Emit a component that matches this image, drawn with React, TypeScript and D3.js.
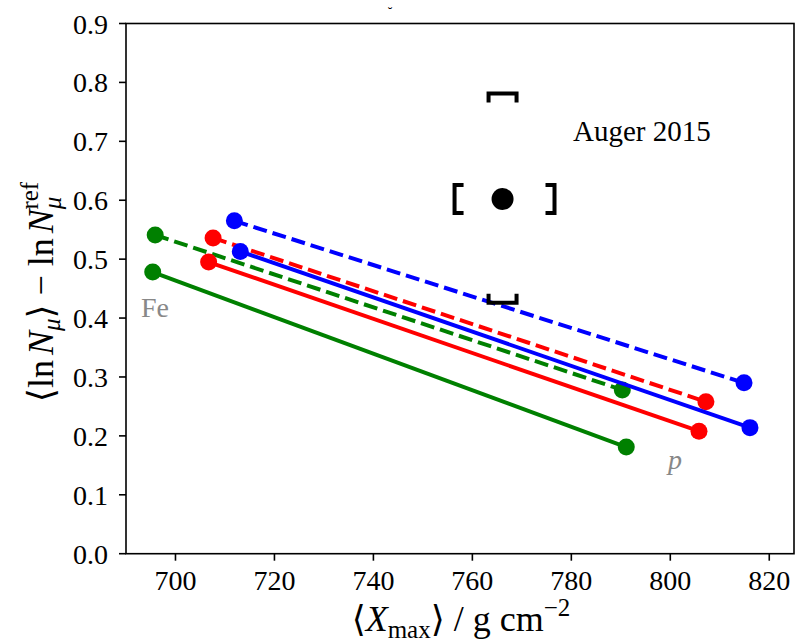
import React from "react";
import * as d3 from "d3";

const xTicks = [700, 720, 740, 760, 780, 800, 820];
const yTicks = [0.0, 0.1, 0.2, 0.3, 0.4, 0.5, 0.6, 0.7, 0.8, 0.9];

const seriesNames = ["green-solid", "green-dashed", "red-solid", "red-dashed", "blue-solid", "blue-dashed"];
const seriesColors = ["#008000", "#008000", "#ff0000", "#ff0000", "#0000ff", "#0000ff"];
const seriesDashed = [false, true, false, true, false, true];
const feX = [695.4, 695.9, 706.7, 707.6, 713.1, 711.9];
const feY = [0.478, 0.541, 0.495, 0.536, 0.513, 0.565];
const pX = [791.1, 790.3, 805.8, 807.2, 816.1, 814.9];
const pY = [0.181, 0.278, 0.208, 0.258, 0.214, 0.290];

const augerX = 766.1;
const augerY = 0.602;
const augerXLo = 756.4;
const augerXHi = 776.6;
const augerYLo = 0.426;
const augerYHi = 0.781;

const W = 797, H = 642;
const M = { left: 126, right: 794, top: 23.5, bottom: 553.7 };

export default function App() {
  const x = d3.scaleLinear().domain([690, 825]).range([M.left, M.right]);
  const y = d3.scaleLinear().domain([0, 0.9]).range([M.bottom, M.top]);
  const font = "'Liberation Serif', 'DejaVu Serif', serif";
  const line = d3.line<[number, number]>().x(d => x(d[0])).y(d => y(d[1]));

  const cx = x(augerX), cy = y(augerY);
  const bx0 = x(augerXLo), bx1 = x(augerXHi), by0 = y(augerYLo), by1 = y(augerYHi);
  const arm = 9, half = 14, halfH = 14;

  return (
    <svg width={W} height={H} style={{ position: "absolute", left: 0, top: 0, background: "#fff" }} fontFamily={font}>
      <text x={390} y={17} fontSize={14} textAnchor="middle" fill="#000">˘</text>
      {/* series */}
      {seriesNames.map((n, i) => (
        <g key={n}>
          <path d={line([[feX[i], feY[i]], [pX[i], pY[i]]]) || ""} stroke={seriesColors[i]} strokeWidth={4}
            fill="none" strokeDasharray={seriesDashed[i] ? "14,6" : undefined} />
          <circle cx={x(feX[i])} cy={y(feY[i])} r={8.5} fill={seriesColors[i]} />
          <circle cx={x(pX[i])} cy={y(pY[i])} r={8.5} fill={seriesColors[i]} />
        </g>
      ))}
      {/* Auger point */}
      <circle cx={cx} cy={cy} r={11} fill="#000" />
      <g stroke="#000" strokeWidth={4} fill="none">
        <path d={`M${bx0 + arm},${cy - halfH} H${bx0} V${cy + halfH} H${bx0 + arm}`} />
        <path d={`M${bx1 - arm},${cy - halfH} H${bx1} V${cy + halfH} H${bx1 - arm}`} />
        <path d={`M${cx - half},${by1 + arm} V${by1} H${cx + half} V${by1 + arm}`} />
        <path d={`M${cx - half},${by0 - arm} V${by0} H${cx + half} V${by0 - arm}`} />
      </g>
      <text x={573} y={141} fontSize={29} fill="#000">Auger 2015</text>
      <text x={141} y={317} fontSize={28} fill="#888">Fe</text>
      <text x={668} y={469} fontSize={28} fill="#888" fontStyle="italic">p</text>
      {/* frame */}
      <rect x={M.left} y={M.top} width={M.right - M.left} height={M.bottom - M.top} fill="none" stroke="#000" strokeWidth={1.6} />
      {/* x ticks */}
      {xTicks.map(t => (
        <g key={t}>
          <line x1={x(t)} x2={x(t)} y1={M.bottom} y2={M.bottom + 7} stroke="#000" strokeWidth={1.6} />
          <text x={x(t)} y={590} fontSize={28} textAnchor="middle" fill="#000">{t}</text>
        </g>
      ))}
      {yTicks.map(t => (
        <g key={t}>
          <line x1={M.left - 7} x2={M.left} y1={y(t)} y2={y(t)} stroke="#000" strokeWidth={1.6} />
          <text x={M.left - 18} y={y(t) + 10} fontSize={28} textAnchor="end" fill="#000">{t.toFixed(1)}</text>
        </g>
      ))}
      {/* x label */}
      <text x={461} y={631} fontSize={36} textAnchor="middle" fill="#000">
        ⟨<tspan fontStyle="italic">X</tspan><tspan fontSize={25} dy={7}>max</tspan><tspan dy={-7}>⟩ / g cm</tspan><tspan fontSize={25} dy={-15}>−2</tspan>
      </text>
      {/* y label */}
      <text transform="translate(53,292) rotate(-90)" fontSize={36} textAnchor="middle" fill="#000">
        ⟨ln<tspan dx={5} fontStyle="italic">N</tspan><tspan fontSize={25} dy={7} fontStyle="italic">μ</tspan><tspan dy={-7}>⟩ − ln</tspan><tspan dx={5} fontStyle="italic">N</tspan><tspan fontSize={25} dy={8} fontStyle="italic">μ</tspan><tspan fontSize={25} dy={-23} dx={-13}>ref</tspan>
      </text>
    </svg>
  );
}
